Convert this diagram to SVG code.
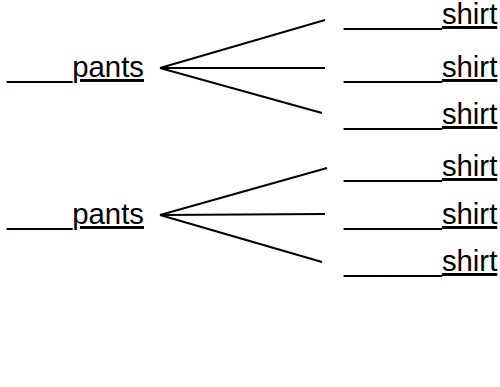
<svg xmlns="http://www.w3.org/2000/svg" width="500" height="387" viewBox="0 0 500 387">
<style>
text{font-family:"Liberation Sans",Arial,sans-serif;font-size:29.33px;fill:#000}
.u{text-decoration:underline}
.c line{stroke:#000;stroke-width:2;fill:none}
</style>
<rect width="500" height="387" fill="#fff"/>
<g id="pants1"><text x="7" y="77">____<tspan class="u">pants</tspan></text></g>
<g id="pants2"><text x="7" y="224">____<tspan class="u">pants</tspan></text></g>
<g id="shirt1"><text x="344" y="24">______<tspan class="u">shirt</tspan></text></g>
<g id="shirt2"><text x="344" y="77">______<tspan class="u">shirt</tspan></text></g>
<g id="shirt3"><text x="344" y="124">______<tspan class="u">shirt</tspan></text></g>
<g id="shirt4"><text x="344" y="176">______<tspan class="u">shirt</tspan></text></g>
<g id="shirt5"><text x="344" y="224">______<tspan class="u">shirt</tspan></text></g>
<g id="shirt6"><text x="344" y="271">______<tspan class="u">shirt</tspan></text></g>
<g id="connectors" class="c">
<line x1="160" y1="68" x2="325" y2="20"/>
<line x1="160" y1="68" x2="325" y2="68"/>
<line x1="160" y1="68" x2="322" y2="113"/>
<line x1="160" y1="215" x2="327" y2="168"/>
<line x1="160" y1="215" x2="325" y2="214"/>
<line x1="160" y1="215" x2="322" y2="262"/>
</g>
</svg>
